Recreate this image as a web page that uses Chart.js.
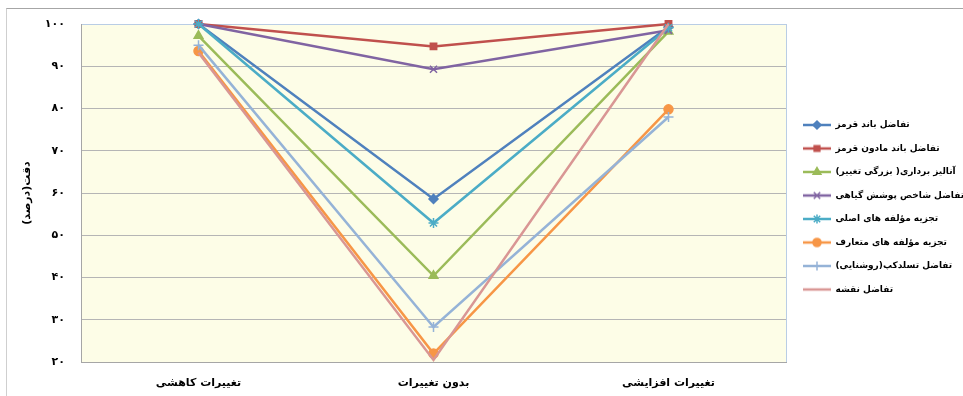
<!DOCTYPE html>
<html>
<head>
<meta charset="utf-8">
<script src="https://cdn.jsdelivr.net/npm/chart.js@4.4.0/dist/chart.umd.min.js"></script>
<style>
  html, body { margin: 0; padding: 0; background: #fff; overflow: hidden; }
  #wrap { position: relative; width: 963px; height: 396px; }
  #frame { position: absolute; left: 6px; top: 8px; width: 1000px; height: 500px;
           border-top: 1px solid #a6a6a6; border-left: 1px solid #cfcfcf; }
  canvas { position: absolute; left: 0; top: 0; }
</style>
</head>
<body>
<div id="wrap">
  <div id="frame"></div>
  <canvas id="accuracyChart" width="963" height="396"></canvas>
</div>
<script>
const categories = ["تغییرات کاهشی", "بدون تغییرات", "تغییرات افزایشی"];
const yTickLabels = ["۲۰", "۳۰", "۴۰", "۵۰", "۶۰", "۷۰", "۸۰", "۹۰", "۱۰۰"];
const seriesNames = [
  "تفاضل باند قرمز",
  "تفاضل باند مادون قرمز",
  "آنالیز برداری( بزرگی تغییر)",
  "تفاضل شاخص پوشش گیاهی",
  "تجزیه مؤلفه های اصلی",
  "تجزیه مؤلفه های متعارف",
  "تفاضل تسلدکپ(روشنایی)",
  "تفاضل نقشه"
];
const redBand = [100, 58.6, 99.3];
const nirBand = [100, 94.7, 100];
const changeVector = [97.2, 40.4, 98.2];
const vegIndex = [100, 89.3, 98.5];
const pca = [100, 52.9, 99.1];
const cca = [93.6, 22.0, 79.8];
const tasseledCap = [95.0, 28.3, 78.0];
const mapDiff = [93.2, 20.5, 100];

const seriesValues = [redBand, nirBand, changeVector, vegIndex, pca, cca, tasseledCap, mapDiff];
const colors = ["#4f81bd", "#c0504d", "#9bbb59", "#8064a2", "#4bacc6", "#f79646", "#95b3d7", "#d99694"];
const markers = ["rectRot", "rect", "triangle", "crossRot", "star", "circle", "cross", false];
const markerSizes = [4.5, 4.5, 5, 5, 5, 4.5, 5, 0];

const fontFamily = "'DejaVu Sans', sans-serif";

// small line+marker pictures for the legend
function legendIcon(i) {
  const c = document.createElement("canvas");
  c.width = 28; c.height = 12;
  const g = c.getContext("2d");
  g.strokeStyle = colors[i];
  g.lineWidth = 2.5;
  g.beginPath(); g.moveTo(0, 6); g.lineTo(28, 6); g.stroke();
  if (markers[i]) {
    g.fillStyle = colors[i];
    g.lineWidth = 1.5;
    Chart.helpers.drawPoint(g, { pointStyle: markers[i], radius: markerSizes[i] * 0.9, borderWidth: 1.5, rotation: 0 }, 14, 6);
  }
  return c;
}
const legendIcons = seriesValues.map((v, i) => legendIcon(i));

const plotBackground = {
  id: "plotBackground",
  beforeDraw(chart) {
    const { ctx, chartArea: a } = chart;
    ctx.save();
    ctx.fillStyle = "#fdfde7";
    ctx.fillRect(a.left, a.top, a.right - a.left, a.bottom - a.top);
    ctx.restore();
  },
  beforeDatasetsDraw(chart) {
    const { ctx, chartArea: a } = chart;
    ctx.save();
    ctx.strokeStyle = "#b9cde5";
    ctx.lineWidth = 1;
    ctx.beginPath();
    ctx.moveTo(a.right + 0.5, a.top);
    ctx.lineTo(a.right + 0.5, a.bottom);
    ctx.stroke();
    ctx.restore();
  }
};

const legendPlacement = {
  id: "legendPlacement",
  afterInit(chart) {
    const lg = chart.legend;
    const fit = lg.fit;
    lg.fit = function () { fit.call(this); this.width = 177; };
  },
  afterLayout(chart) {
    const lg = chart.legend;
    const h = lg.bottom - lg.top;
    lg.top = 106;
    lg.bottom = lg.top + h;
    lg.left += 2.5;
  }
};

const ctx = document.querySelector("#accuracyChart");

new Chart(ctx, {
  type: "line",
  data: {
    labels: categories,
    datasets: seriesValues.map((values, i) => ({
      label: seriesNames[i],
      data: values,
      borderColor: colors[i],
      backgroundColor: colors[i],
      borderWidth: 2.5,
      pointStyle: markers[i],
      pointRadius: markerSizes[i],
      pointBorderWidth: 1.5,
      pointBorderColor: colors[i],
      pointBackgroundColor: colors[i],
      tension: 0,
      clip: false,
      order: 8 - i
    }))
  },
  options: {
    responsive: false,
    animation: false,
    layout: { padding: { top: 24, left: 0, right: 0, bottom: 0 } },
    scales: {
      x: {
        offset: true,
        grid: { display: false, drawTicks: false },
        border: { color: "#a6a6a6" },
        ticks: { padding: 15, color: "#000", font: { family: fontFamily, size: 11, weight: "bold" } },
        afterFit(scale) { scale.height = 34; }
      },
      y: {
        min: 20,
        max: 100,
        ticks: {
          stepSize: 10,
          padding: 16,
          color: "#000",
          font: { family: fontFamily, size: 11, weight: "bold" },
          callback: (v) => yTickLabels[Math.round((v - 20) / 10)]
        },
        grid: {
          drawTicks: false,
          color: (c) => (c.tick && c.tick.value === 100 ? "#b9cde5" : "#b5b5b5")
        },
        border: { color: "#a6a6a6" },
        title: {
          display: true,
          text: "دقت(درصد)",
          color: "#000",
          font: { family: fontFamily, size: 11, weight: "bold" },
          padding: { top: 21, bottom: 0 }
        },
        afterFit(scale) { scale.width = 81; }
      }
    },
    plugins: {
      tooltip: { enabled: false },
      legend: {
        position: "right",
        align: "start",
        textDirection: "rtl",
        labels: {
          usePointStyle: true,
          pointStyleWidth: 28,
          boxHeight: 9,
          padding: 14.5,
          color: "#000",
          font: { family: fontFamily, size: 9, weight: "bold" },
          generateLabels(chart) {
            return chart.data.datasets.map((d, i) => ({
              text: d.label,
              pointStyle: legendIcons[i],
              fillStyle: colors[i],
              strokeStyle: colors[i],
              lineWidth: 0,
              hidden: false,
              datasetIndex: i
            }));
          }
        }
      }
    }
  },
  plugins: [plotBackground, legendPlacement]
});
</script>
</body>
</html>
